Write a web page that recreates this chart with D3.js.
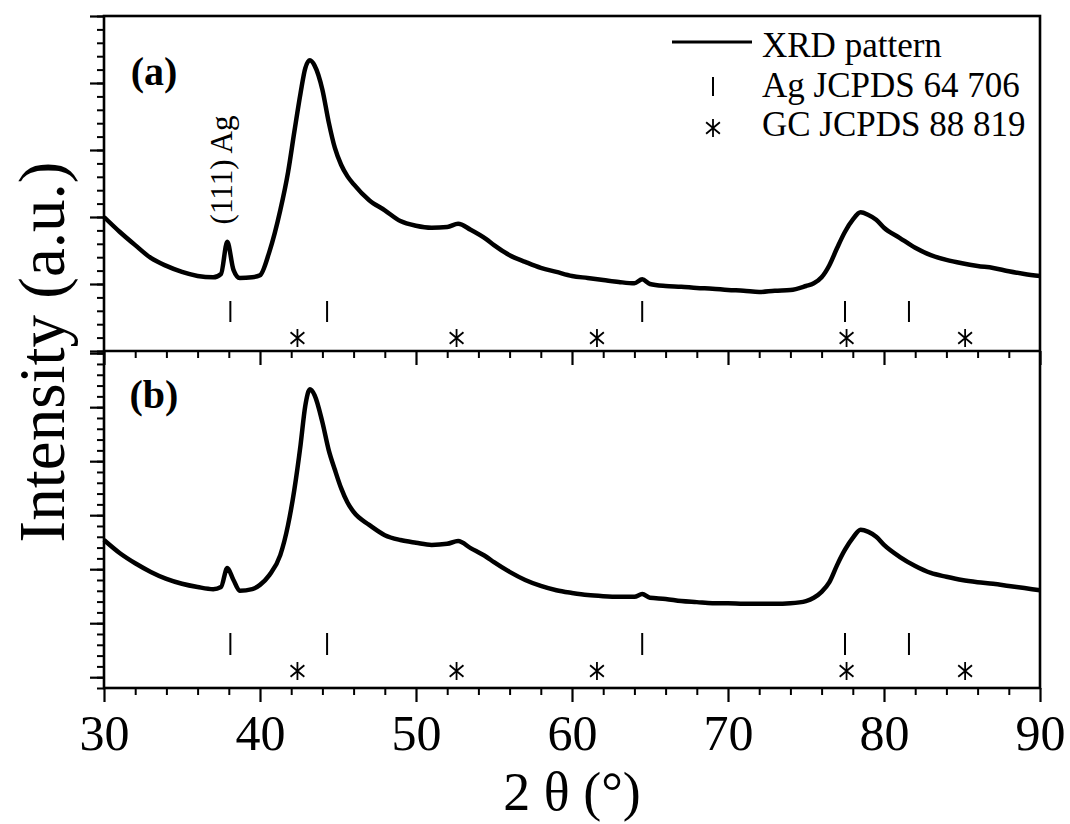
<!DOCTYPE html>
<html><head><meta charset="utf-8">
<script src="https://cdn.jsdelivr.net/npm/d3@7"></script>
<style>body{margin:0;background:#fff}svg{display:block}text{font-family:"Liberation Serif","Times New Roman",serif;fill:#000}</style>
</head><body>
<svg id="chart" width="1070" height="824"></svg>
<script>
// ---- data ----
const twoTheta = [30,31,32,33,34,35,36,37,37.5,37.9,38.3,38.7,39.5,40,40.6,41.3,41.8,42.2,42.6,42.9,43.2,43.5,44,44.4,44.8,45.2,45.6,46,47,48,49,50,51,52,52.7,53.5,54.5,55,56,57,58,59,60,61,62,63,64,64.5,65,66,67,68,69,70,71,72,73,74,75,75.5,76,76.5,77,77.5,78,78.5,79,79.5,80,81,82,83,84,85,86,87,88,89,90];
const intensityA = [2.00,1.78,1.58,1.39,1.27,1.18,1.12,1.10,1.15,1.63,1.21,1.09,1.10,1.13,1.48,2.10,2.67,3.27,3.85,4.22,4.34,4.26,3.90,3.42,3.03,2.78,2.61,2.49,2.25,2.10,1.94,1.87,1.84,1.85,1.90,1.81,1.67,1.58,1.43,1.33,1.24,1.18,1.12,1.09,1.06,1.03,1.01,1.07,1.00,0.97,0.96,0.94,0.93,0.91,0.90,0.88,0.90,0.91,0.97,1.01,1.10,1.28,1.54,1.78,1.96,2.07,2.03,1.96,1.84,1.69,1.54,1.43,1.36,1.31,1.27,1.24,1.19,1.15,1.12];
const intensityB = [2.54,2.30,2.11,1.95,1.82,1.73,1.67,1.63,1.67,2.02,1.80,1.60,1.63,1.71,1.89,2.26,2.82,3.47,4.30,5.02,5.33,5.22,4.72,4.21,3.84,3.50,3.24,3.06,2.82,2.63,2.54,2.49,2.45,2.47,2.52,2.39,2.23,2.13,1.95,1.80,1.69,1.61,1.56,1.52,1.50,1.49,1.49,1.54,1.47,1.45,1.41,1.39,1.37,1.37,1.36,1.36,1.36,1.37,1.41,1.47,1.58,1.76,2.08,2.36,2.58,2.73,2.69,2.60,2.45,2.23,2.06,1.93,1.86,1.80,1.76,1.73,1.69,1.65,1.61];
const agPeaks = [38.1, 44.3, 64.5, 77.5, 81.6];   // Ag JCPDS 64 706
const gcPeaks = [42.4, 52.6, 61.6, 77.6, 85.2];   // GC JCPDS 88 819
const xTicks = [30,40,50,60,70,80,90];
const legendLabels = ["XRD pattern","Ag JCPDS 64 706","GC JCPDS 88 819"];
const panelLabels = ["(a)","(b)"];

// ---- layout ----
const svg = d3.select("#chart");
const L = 104, R = 1040;
const x = d3.scaleLinear().domain([30,90]).range([L,R]);
const panels = [
  {top:16, bottom:351, y:d3.scaleLinear().domain([0,5]).range([351,16]), data:intensityA, label:panelLabels[0], major:d3.range(0,5.01,1), minor:d3.range(0,5.01,0.2)},
  {top:351, bottom:688, y:d3.scaleLinear().domain([-0.2,6.04]).range([688,351]), data:intensityB, label:panelLabels[1], major:d3.range(0,6.01,1), minor:d3.range(-0.2,6.01,0.2)}
];
const minorX = d3.range(30,90.01,2).filter(v=>v%10!==0);

// star marker: vertical bar crossed by two diagonals
function star(r){
  const ang = 40*Math.PI/180;
  const a = r*Math.cos(ang), b = r*Math.sin(ang);
  return `M0,${-r}L0,${r}M${-a},${-b}L${a},${b}M${-a},${b}L${a},${-b}`;
}

panels.forEach((p,i)=>{
  const g = svg.append("g");
  g.append("g").attr("transform",`translate(${L},0)`)
    .call(d3.axisLeft(p.y).tickValues(p.minor).tickSize(7).tickFormat(""))
    .call(a=>{a.select(".domain").remove(); a.selectAll("line").attr("stroke","#000").attr("stroke-width",2);});
  g.append("g").attr("transform",`translate(${L},0)`)
    .call(d3.axisLeft(p.y).tickValues(p.major).tickSize(14).tickFormat(""))
    .call(a=>{a.select(".domain").remove(); a.selectAll("line").attr("stroke","#000").attr("stroke-width",2.2);});
  const xa = g.append("g").attr("transform",`translate(0,${p.bottom})`);
  xa.append("g").call(d3.axisBottom(x).tickValues(minorX).tickSize(7).tickFormat(""))
    .call(a=>{a.select(".domain").remove(); a.selectAll("line").attr("stroke","#000").attr("stroke-width",2);});
  xa.append("g").call(d3.axisBottom(x).tickValues(xTicks).tickSize(14).tickFormat(i===1? d3.format("d") : ""))
    .call(a=>{a.select(".domain").remove(); a.selectAll("line").attr("stroke","#000").attr("stroke-width",2.2);
      a.selectAll("text").attr("font-size",50).attr("dy",0).attr("y",62).attr("font-family","Liberation Serif");});
  const line = d3.line().x((d,j)=>x(twoTheta[j])).y(d=>p.y(d)).curve(d3.curveMonotoneX);
  g.append("path").datum(p.data).attr("d",line).attr("fill","none").attr("stroke","#000")
    .attr("stroke-width",4.5).attr("stroke-linejoin","round");
  g.selectAll(".ag").data(agPeaks).enter().append("line")
    .attr("x1",d=>x(d)).attr("x2",d=>x(d))
    .attr("y1",p.bottom-(i===0?50:55)).attr("y2",p.bottom-(i===0?29:33))
    .attr("stroke","#000").attr("stroke-width",2);
  g.selectAll(".gc").data(gcPeaks).enter().append("path")
    .attr("transform",d=>`translate(${x(d)},${p.bottom-(i===0?13:17)})`)
    .attr("d",star(9)).attr("fill","none").attr("stroke","#000").attr("stroke-width",1.8);
  g.append("text").attr("x",154).attr("y",i===0?85:408).attr("text-anchor","middle")
    .attr("font-size",40).attr("font-weight","bold").text(p.label);
});

svg.append("rect").attr("x",L).attr("y",16).attr("width",R-L).attr("height",688-16)
  .attr("fill","none").attr("stroke","#000").attr("stroke-width",2.6);
svg.append("line").attr("x1",L).attr("x2",R).attr("y1",351).attr("y2",351).attr("stroke","#000").attr("stroke-width",2.6);

svg.append("text").attr("transform",`translate(232,170) rotate(-90)`).attr("text-anchor","middle")
  .attr("font-size",31).text("(111) Ag");

const lg = svg.append("g");
lg.append("line").attr("x1",672).attr("x2",752).attr("y1",42).attr("y2",42).attr("stroke","#000").attr("stroke-width",3);
lg.append("line").attr("x1",713).attr("x2",713).attr("y1",77).attr("y2",96).attr("stroke","#000").attr("stroke-width",2);
lg.append("path").attr("transform","translate(713,128)").attr("d",star(9))
  .attr("fill","none").attr("stroke","#000").attr("stroke-width",1.8);
legendLabels.forEach((t,k)=>{
  lg.append("text").attr("x",762).attr("y",57+k*39.5).attr("font-size",35).text(t);
});

svg.append("text").attr("x",(L+R)/2).attr("y",810).attr("text-anchor","middle").attr("font-size",54)
  .attr("xml:space","preserve").text("2 θ (°)");
svg.append("text").attr("transform",`translate(64,352) rotate(-90)`).attr("text-anchor","middle")
  .attr("font-size",65).text("Intensity (a.u.)");
</script>
</body></html>
